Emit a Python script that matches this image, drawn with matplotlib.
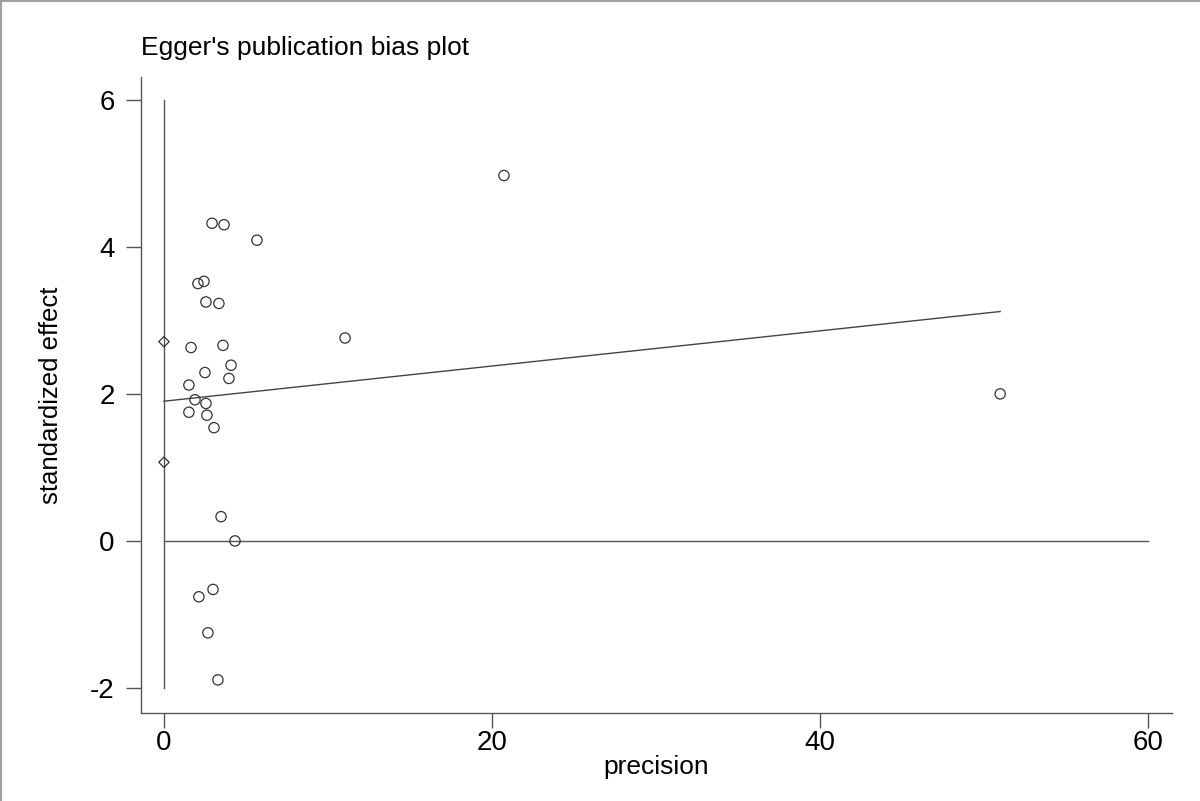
import numpy as np
import matplotlib
matplotlib.use("Agg")
import matplotlib.pyplot as plt
from matplotlib.lines import Line2D

plt.rcParams["font.family"] = ["Liberation Sans", "DejaVu Sans"]
plt.rcParams["axes.unicode_minus"] = False

# study points: precision (1/SE) vs standardized effect (effect/SE)
precision = [2.93, 3.66, 5.67, 20.73, 2.07, 2.44, 2.56, 3.35, 11.04, 1.65,
             3.60, 4.09, 3.96, 2.50, 1.52, 1.89, 2.56, 1.52, 2.62, 3.05,
             50.98, 3.48, 4.33, 2.99, 2.13, 2.68, 3.29]
std_effect = [4.32, 4.30, 4.09, 4.97, 3.50, 3.53, 3.25, 3.23, 2.76, 2.63,
              2.66, 2.39, 2.21, 2.29, 2.12, 1.92, 1.87, 1.75, 1.71, 1.54,
              2.00, 0.33, 0.00, -0.66, -0.76, -1.25, -1.89]

# Egger regression line and CI of intercept (diamonds on the y axis)
reg_x = [0.0, 50.98]
reg_y = [1.90, 3.12]
intercept_ci = [1.07, 2.71]

XTICKS = [0, 20, 40, 60]
YTICKS = [-2, 0, 2, 4, 6]

LINE_COL = "#555555"

fig = plt.figure(figsize=(12, 8.01), dpi=100)
ax = fig.add_axes([0.1175, 0.1099, 0.8592, 0.794])

ax.plot([0, 60], [0, 0], color=LINE_COL, lw=1.0, zorder=1)
ax.plot([0, 0], [-2, 6], color=LINE_COL, lw=1.0, zorder=1)
ax.plot(reg_x, reg_y, color="#444444", lw=1.0, zorder=2)

ax.scatter(precision, std_effect, s=55, facecolors="none", edgecolors="#333333",
           linewidths=0.9, zorder=3)
ax.scatter([0, 0], intercept_ci, marker="D", s=28, facecolors="none",
           edgecolors="#333333", linewidths=0.9, zorder=3)

ax.set_xlim(-1.40, 61.46)
ax.set_ylim(-2.34, 6.31)
ax.set_xticks(XTICKS)
ax.set_yticks(YTICKS)

for side in ["top", "right"]:
    ax.spines[side].set_visible(False)
for side in ["left", "bottom"]:
    ax.spines[side].set_color(LINE_COL)
    ax.spines[side].set_linewidth(1.0)

ax.tick_params(axis="both", direction="out", length=11, width=1.0,
               color=LINE_COL, labelsize=20)
ax.tick_params(axis="y", pad=8)
ax.tick_params(axis="x", pad=1)

ax.set_xlabel("precision", fontsize=19, va="center")
ax.set_ylabel("standardized effect", fontsize=18.5, va="center")
ax.xaxis.set_label_coords(0.5, -0.085)
ax.yaxis.set_label_coords(-0.0875, 0.5)

ax.set_title("Egger's publication bias plot", loc="left", fontsize=19, pad=16)

# thin gray frame on top and left edges of the image
fig.add_artist(Line2D([0, 1], [0.999, 0.999], transform=fig.transFigure,
                      color="#a0a0a0", lw=1.5))
fig.add_artist(Line2D([0.0008, 0.0008], [0, 1], transform=fig.transFigure,
                      color="#a0a0a0", lw=1.5))

fig.savefig("out.png", dpi=100)
